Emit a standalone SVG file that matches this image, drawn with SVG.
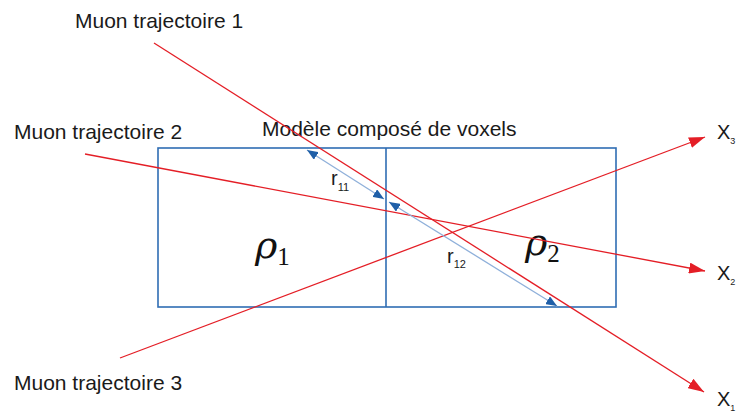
<svg xmlns="http://www.w3.org/2000/svg" width="737" height="416" viewBox="0 0 737 416">
<style>
.lbl{font-family:"Liberation Sans",Arial,sans-serif;font-size:21px;fill:#1a1a1a}
.x{font-family:"Liberation Sans",Arial,sans-serif;font-size:20px;fill:#1a1a1a}
.rho{font-family:"DejaVu Serif","Liberation Serif",serif;font-style:italic;font-size:38px;fill:#111}
.sub{font-family:"Liberation Serif",serif;font-size:25px;font-style:normal}
.r{font-family:"Liberation Sans",Arial,sans-serif;font-size:20px;fill:#1a1a1a}
.mu{stroke:#e41e26;stroke-width:1.3;fill:none}
.box{stroke:#2f6db3;stroke-width:1.6;fill:none}
.dist{stroke:#8fb0da;stroke-width:1.3;fill:none}
</style>
<defs>
<marker id="ar" viewBox="0 0 10 10" refX="10" refY="5" markerWidth="16" markerHeight="11" markerUnits="userSpaceOnUse" orient="auto" preserveAspectRatio="none"><path d="M0,0 L10,5 L0,10 z" fill="#e41e26"/></marker>
<marker id="ab" viewBox="0 0 10 10" refX="10" refY="5" markerWidth="11" markerHeight="9" markerUnits="userSpaceOnUse" orient="auto-start-reverse" preserveAspectRatio="none"><path d="M0,0 L10,5 L0,10 z" fill="#1f5fa8"/></marker>
</defs>
<rect width="737" height="416" fill="#fff"/>
<g id="voxels">
<rect class="box" x="158" y="148" width="458" height="159"/>
<line class="box" x1="386" y1="148" x2="386" y2="307"/>
<text class="lbl" x="262" y="136">Modèle composé de voxels</text>
</g>
<g id="voxel1"><text class="rho" x="255" y="258">ρ<tspan class="sub" dy="7">1</tspan></text></g>
<g id="voxel2"><text class="rho" x="525" y="255">ρ<tspan class="sub" dy="7">2</tspan></text></g>
<g id="connectors">
<line class="mu" x1="154" y1="43" x2="704" y2="392" marker-end="url(#ar)"/>
<line class="mu" x1="85" y1="154" x2="705" y2="271" marker-end="url(#ar)"/>
<line class="mu" x1="120" y1="358" x2="705" y2="137" marker-end="url(#ar)"/>
<line class="dist" x1="307" y1="150" x2="384" y2="199" marker-start="url(#ab)" marker-end="url(#ab)"/>
<line class="dist" x1="389" y1="202" x2="557" y2="306" marker-start="url(#ab)" marker-end="url(#ab)"/>
</g>
<g id="labels">
<text class="lbl" x="75" y="28">Muon trajectoire 1</text>
<text class="lbl" x="14" y="139">Muon trajectoire 2</text>
<text class="lbl" x="14" y="390">Muon trajectoire 3</text>
<text class="x" x="717" y="139">X<tspan font-size="9" dy="5">3</tspan></text>
<text class="x" x="717" y="280">X<tspan font-size="9" dy="5">2</tspan></text>
<text class="x" x="717" y="406">X<tspan font-size="9" dy="5">1</tspan></text>
<text class="r" x="331" y="185">r<tspan font-size="11" dy="6">11</tspan></text>
<text class="r" x="447" y="263">r<tspan font-size="11" dy="5">12</tspan></text>
</g>
</svg>
